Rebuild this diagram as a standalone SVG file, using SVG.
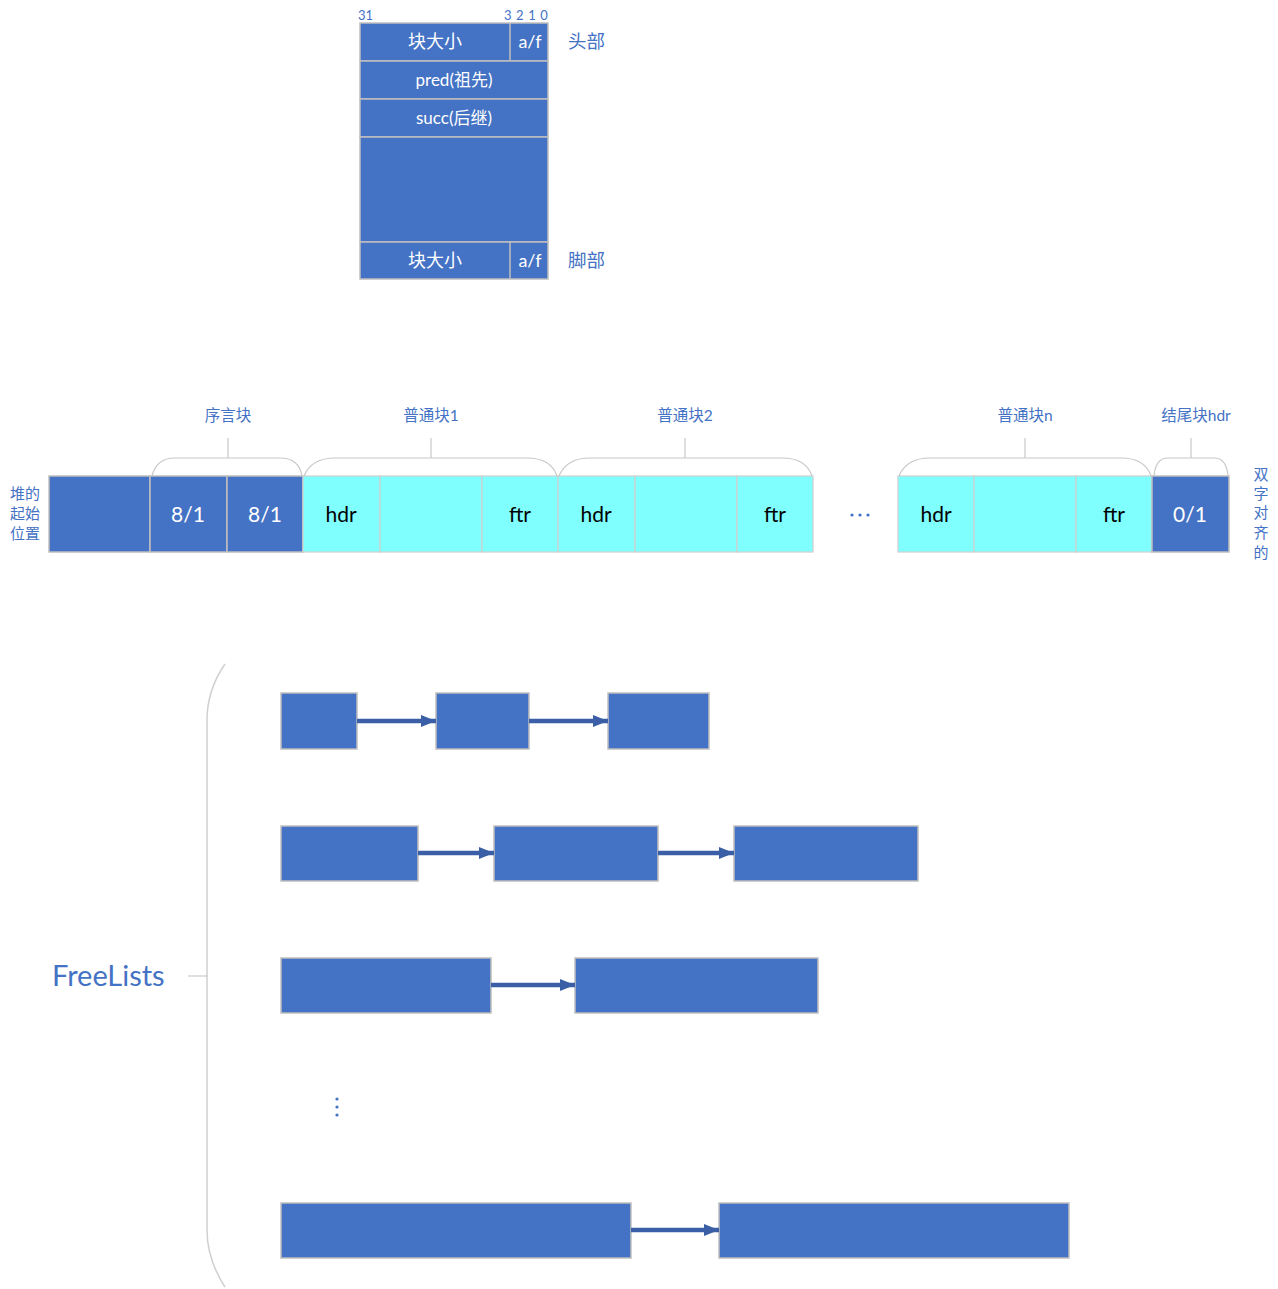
<svg xmlns="http://www.w3.org/2000/svg" width="1278" height="1289" viewBox="0 0 1278 1289">
<defs>
<style>
.blk{fill:#4472C4;stroke:#BFBFBF;stroke-width:1.5}
.cy{fill:#80FFFF;stroke:#CFCFCF;stroke-width:1.2}
.wt{fill:#FFFFFF;font-family:Lato,"Noto Sans CJK SC",sans-serif;text-anchor:middle}
.bk{fill:#000000;font-family:Lato,"Noto Sans CJK SC",sans-serif;text-anchor:middle;font-size:21px}
.lb{fill:#4472C4;font-family:Lato,"Noto Sans CJK SC",sans-serif}
.br{fill:none;stroke:#C8C8C8;stroke-width:1.2}
.ar{stroke:#3A5FA6;stroke-width:4.5;fill:none;marker-end:url(#ah)}
</style>
<marker id="ah" markerUnits="userSpaceOnUse" markerWidth="16" markerHeight="16" viewBox="0 0 16 16" refX="15" refY="8" orient="auto">
<path d="M0,2 L15,8 L0,14 Z" fill="#3A5FA6"/>
</marker>
</defs>

<g id="block-format">
<rect class="blk" x="360" y="23" width="188" height="38"/>
<line x1="510" y1="23" x2="510" y2="61" stroke="#BFBFBF" stroke-width="1.5"/>
<rect class="blk" x="360" y="61" width="188" height="38"/>
<rect class="blk" x="360" y="99" width="188" height="38"/>
<rect class="blk" x="360" y="137" width="188" height="105"/>
<rect class="blk" x="360" y="242" width="188" height="37"/>
<line x1="510" y1="242" x2="510" y2="279" stroke="#BFBFBF" stroke-width="1.5"/>
<text class="wt" x="435" y="48" font-size="18">块大小</text>
<text class="wt" x="530" y="48" font-size="18">a/f</text>
<text class="wt" x="454" y="86" font-size="17">pred(祖先)</text>
<text class="wt" x="454" y="124" font-size="17">succ(后继)</text>
<text class="wt" x="435" y="267" font-size="18">块大小</text>
<text class="wt" x="530" y="267" font-size="18">a/f</text>
<text class="lb" x="358" y="20" font-size="13">31</text>
<text class="lb" x="504" y="20" font-size="13" letter-spacing="0.6">3 2 1 0</text>
<text class="lb" x="568" y="48" font-size="18.5">头部</text>
<text class="lb" x="568" y="267" font-size="18.5">脚部</text>
</g>

<g id="heap">
<rect class="blk" x="49" y="476" width="101" height="76"/>
<rect class="blk" x="150" y="476" width="77" height="76"/>
<rect class="blk" x="227" y="476" width="76" height="76"/>
<rect class="cy" x="303" y="476" width="77" height="76"/>
<rect class="cy" x="380" y="476" width="102" height="76"/>
<rect class="cy" x="482" y="476" width="76" height="76"/>
<rect class="cy" x="558" y="476" width="77" height="76"/>
<rect class="cy" x="635" y="476" width="102" height="76"/>
<rect class="cy" x="737" y="476" width="76" height="76"/>
<rect class="cy" x="898" y="476" width="76" height="76"/>
<rect class="cy" x="974" y="476" width="102" height="76"/>
<rect class="cy" x="1076" y="476" width="76" height="76"/>
<rect class="blk" x="1152" y="476" width="77" height="76"/>
<text class="wt" x="188" y="522" font-size="21">8/1</text>
<text class="wt" x="265" y="522" font-size="21">8/1</text>
<text class="bk" x="341" y="522">hdr</text>
<text class="bk" x="520" y="522">ftr</text>
<text class="bk" x="596" y="522">hdr</text>
<text class="bk" x="775" y="522">ftr</text>
<text class="bk" x="936" y="522">hdr</text>
<text class="bk" x="1114" y="522">ftr</text>
<text class="wt" x="1190" y="522" font-size="21">0/1</text>
<g fill="#4472C4"><circle cx="852" cy="515" r="1.6"/><circle cx="860" cy="515" r="1.6"/><circle cx="868" cy="515" r="1.6"/></g>
<g class="lb" font-size="15">
<text x="10" y="499">堆的</text>
<text x="10" y="519">起始</text>
<text x="10" y="539">位置</text>
</g>
<g class="lb" font-size="15" text-anchor="middle">
<text x="1261" y="480">双</text>
<text x="1261" y="499">字</text>
<text x="1261" y="518">对</text>
<text x="1261" y="538">齐</text>
<text x="1261" y="558">的</text>
</g>
</g>

<g id="braces">
<path class="br" d="M152,476 C155,464 163,458 175,458 H280 C292,458 300,464 302,476 M228,458 V438"/>
<path class="br" d="M304,476 C309,464 320,458 335,458 H527 C542,458 553,464 557,476 M431,458 V438"/>
<path class="br" d="M559,476 C564,464 575,458 590,458 H782 C797,458 808,464 812,476 M685,458 V438"/>
<path class="br" d="M899,476 C904,464 915,458 930,458 H1121 C1136,458 1147,464 1151,476 M1025,458 V438"/>
<path class="br" d="M1154,476 C1155,464 1160,458 1168,458 H1214 C1222,458 1227,464 1228,476 M1191,458 V438"/>
<g class="lb" font-size="15.5" text-anchor="middle">
<text x="228" y="421">序言块</text>
<text x="431" y="421">普通块1</text>
<text x="685" y="421">普通块2</text>
<text x="1025" y="421">普通块n</text>
<text x="1196" y="421">结尾块hdr</text>
</g>
</g>

<g id="freelists">
<path d="M225,664 C214,680 207,698 207,720 V1230 C207,1252 214,1270 225,1287" fill="none" stroke="#D0D0D0" stroke-width="1.5"/>
<line x1="188" y1="976" x2="207" y2="976" stroke="#BFBFBF" stroke-width="1"/>
<text class="lb" x="52" y="986" font-size="29">FreeLists</text>
<rect class="blk" x="281" y="693" width="76" height="56"/>
<rect class="blk" x="436" y="693" width="93" height="56"/>
<rect class="blk" x="608" y="693" width="101" height="56"/>
<rect class="blk" x="281" y="826" width="137" height="55"/>
<rect class="blk" x="494" y="826" width="164" height="55"/>
<rect class="blk" x="734" y="826" width="184" height="55"/>
<rect class="blk" x="281" y="958" width="210" height="55"/>
<rect class="blk" x="575" y="958" width="243" height="55"/>
<rect class="blk" x="281" y="1203" width="350" height="55"/>
<rect class="blk" x="719" y="1203" width="350" height="55"/>
<g fill="#4472C4"><circle cx="337" cy="1099" r="1.6"/><circle cx="337" cy="1107" r="1.6"/><circle cx="337" cy="1115" r="1.6"/></g>
</g>

<g id="connectors">
<line class="ar" x1="357" y1="721" x2="436" y2="721"/>
<line class="ar" x1="529" y1="721" x2="608" y2="721"/>
<line class="ar" x1="418" y1="853" x2="494" y2="853"/>
<line class="ar" x1="658" y1="853" x2="734" y2="853"/>
<line class="ar" x1="491" y1="985" x2="575" y2="985"/>
<line class="ar" x1="631" y1="1230" x2="719" y2="1230"/>
</g>
</svg>
